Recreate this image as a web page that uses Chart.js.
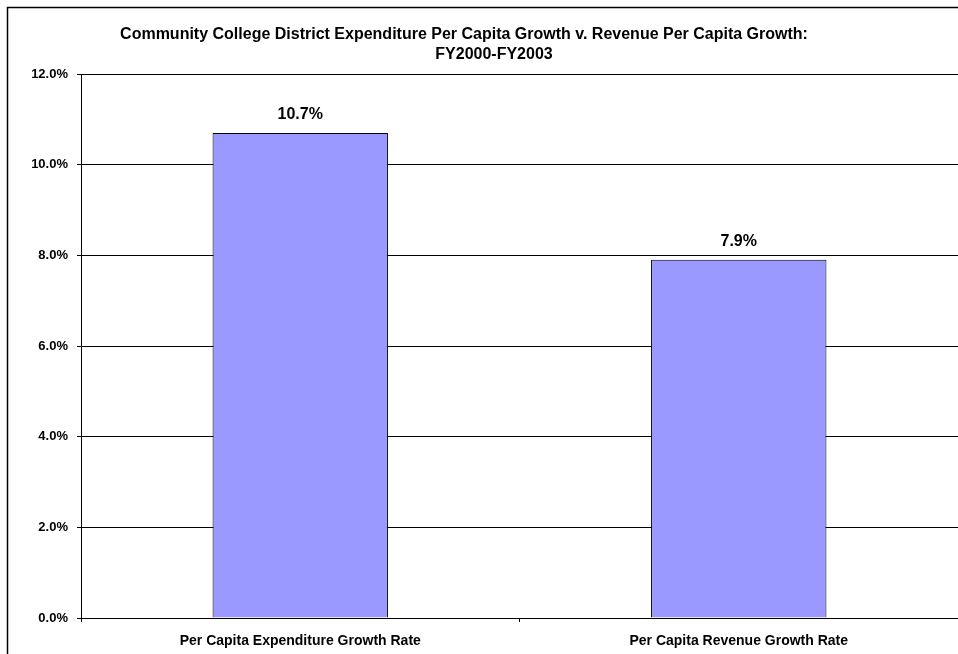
<!DOCTYPE html>
<html lang="en">
<head>
  <meta charset="UTF-8" />
  <title>Community College District Expenditure v. Revenue Per Capita Growth</title>
  <script src="https://cdn.jsdelivr.net/npm/chart.js"></script>
  <style>
    html, body {
      margin: 0;
      padding: 0;
      background: #fff;
      overflow: hidden;
    }
    #chart {
      display: block;
    }
  </style>
</head>
<body>
  <canvas id="chart" width="958" height="654"></canvas>

  <script>
    const titleLines = [
      'Community College District Expenditure Per Capita Growth v. Revenue Per Capita Growth:',
      'FY2000-FY2003'
    ];
    const categories = ['Per Capita Expenditure Growth Rate', 'Per Capita Revenue Growth Rate'];
    const growthRates = [10.7, 7.9];
    const yTicks = [0, 2, 4, 6, 8, 10, 12];

    const FONT = "'Liberation Sans', Arial, sans-serif";

    // outer frame of the chart object (only left and top edges fall inside the canvas)
    const framePlugin = {
      id: 'frame',
      beforeDraw(chart) {
        const ctx = chart.ctx;
        ctx.save();
        ctx.strokeStyle = '#000';
        ctx.lineWidth = 1.5;
        ctx.beginPath();
        ctx.moveTo(7.5, chart.height + 5);
        ctx.lineTo(7.5, 7.5);
        ctx.lineTo(chart.width + 5, 7.5);
        ctx.stroke();
        ctx.restore();
      }
    };

    // two-line title, each line centred on its own
    const titlePlugin = {
      id: 'twoLineTitle',
      afterDraw(chart) {
        const ctx = chart.ctx;
        ctx.save();
        ctx.fillStyle = '#000';
        ctx.font = 'bold 16px ' + FONT;
        ctx.textAlign = 'center';
        ctx.textBaseline = 'alphabetic';
        ctx.fillText(titleLines[0], 464, 39);
        ctx.fillText(titleLines[1], 494, 59);
        ctx.restore();
      }
    };

    // value labels above each bar
    const valueLabels = {
      id: 'valueLabels',
      afterDatasetsDraw(chart) {
        const ctx = chart.ctx;
        const meta = chart.getDatasetMeta(0);
        ctx.save();
        ctx.fillStyle = '#000';
        ctx.font = 'bold 16px ' + FONT;
        ctx.textAlign = 'center';
        ctx.textBaseline = 'alphabetic';
        meta.data.forEach((bar, i) => {
          ctx.fillText(growthRates[i].toFixed(1) + '%', bar.x, bar.y - 14);
        });
        ctx.restore();
      }
    };

    new Chart(document.getElementById('chart'), {
      type: 'bar',
      data: {
        labels: categories,
        datasets: [{
          data: growthRates,
          backgroundColor: '#9999ff',
          borderColor: '#000',
          borderWidth: 1,
          categoryPercentage: 1.0,
          barPercentage: 0.4
        }]
      },
      options: {
        responsive: false,
        animation: false,
        layout: {
          padding: { left: 0, right: 0, top: 74, bottom: 0 }
        },
        plugins: {
          legend: { display: false },
          title: { display: false },
          tooltip: { enabled: false }
        },
        scales: {
          x: {
            afterFit(scale) {
              scale.height = 36;
            },
            grid: {
              drawOnChartArea: false,
              drawTicks: true,
              tickLength: 4,
              color: '#000'
            },
            border: { color: '#000', width: 1 },
            ticks: {
              color: '#000',
              font: { family: FONT, size: 14, weight: 'bold' },
              padding: 11
            }
          },
          y: {
            min: yTicks[0],
            max: yTicks[yTicks.length - 1],
            afterBuildTicks(scale) {
              scale.ticks = yTicks.map(v => ({ value: v }));
            },
            afterFit(scale) {
              scale.width = 81;
            },
            grid: {
              color: '#000',
              lineWidth: 1,
              tickLength: 4
            },
            border: { color: '#000', width: 1 },
            ticks: {
              color: '#000',
              font: { family: FONT, size: 13, weight: 'bold' },
              padding: 9,
              callback: v => v.toFixed(1) + '%'
            }
          }
        }
      },
      plugins: [framePlugin, titlePlugin, valueLabels]
    });
  </script>
</body>
</html>
